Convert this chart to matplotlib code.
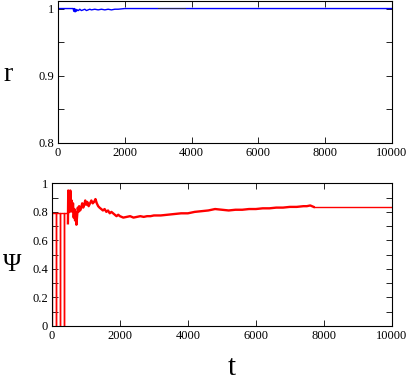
import matplotlib
matplotlib.use("Agg")
import matplotlib.pyplot as plt
from matplotlib.ticker import MultipleLocator

plt.rcParams['font.family'] = ['Liberation Serif', 'DejaVu Serif']
plt.rcParams['mathtext.fontset'] = 'stix'

# top panel: r(t)
r_t = [0, 450, 470, 490, 510, 530, 550, 580, 610, 650, 700, 750, 800, 850, 900, 950, 1000,
       1100, 1200, 1300, 1400, 1500, 1600, 1700, 1800, 2000, 2500, 3000, 4000, 6000, 10000]
r_v = [1.0, 1.0, 0.996, 1.0, 0.995, 0.999, 0.996, 0.998, 0.997, 0.999, 0.997, 0.998, 0.999, 0.997,
       0.998, 0.999, 0.998, 0.999, 0.998, 0.999, 0.998, 0.999, 0.998, 0.999, 0.999, 1.0, 1.0,
       1.0, 1.0, 1.0, 1.0]
r2_t = [3000, 3800]
r2_v = [1.0008, 1.0008]

# bottom panel: Psi(t) -- initial drops
p0_t = [0, 0, 118, 118, 118, 235, 235, 235, 353, 353, 353, 470]
p0_v = [0.0, 0.79, 0.79, 0.0, 0.79, 0.79, 0.0, 0.79, 0.79, 0.0, 0.79, 0.79]
# noisy part
p_t = [470, 480, 495, 510, 525, 540, 560, 580, 600, 620, 640, 660, 680, 700, 720, 740, 760,
       780, 800, 830, 860, 890, 920, 950, 980, 1010, 1040, 1080, 1120, 1160, 1200, 1240,
       1280, 1320, 1360, 1400, 1450, 1500, 1550, 1600, 1650, 1700, 1750, 1800, 1850, 1900,
       1950, 2000, 2100, 2200, 2300, 2400, 2500, 2600, 2700, 2800, 2900, 3000, 3200, 3400,
       3600, 3800, 4000, 4200, 4400, 4600, 4800, 5000, 5200, 5400, 5600, 5800, 6000, 6200,
       6400, 6600, 6800, 7000, 7200, 7400, 7500, 7600, 7700]
p_v = [0.72, 0.95, 0.86, 0.93, 0.80, 0.95, 0.84, 0.88, 0.80, 0.86, 0.76, 0.82, 0.74, 0.80,
       0.71, 0.77, 0.83, 0.80, 0.84, 0.81, 0.83, 0.86, 0.83, 0.85, 0.88, 0.85, 0.87, 0.84,
       0.86, 0.88, 0.86, 0.87, 0.89, 0.86, 0.84, 0.83, 0.82, 0.81, 0.82, 0.80, 0.81, 0.79,
       0.80, 0.79, 0.78, 0.77, 0.78, 0.77, 0.76, 0.765, 0.77, 0.76, 0.765, 0.77, 0.765, 0.77,
       0.77, 0.775, 0.775, 0.78, 0.785, 0.79, 0.79, 0.80, 0.805, 0.81, 0.82, 0.815, 0.81,
       0.815, 0.815, 0.82, 0.82, 0.825, 0.825, 0.83, 0.83, 0.835, 0.835, 0.84, 0.84, 0.845,
       0.835]
# final plateau
p1_t = [7700, 10000]
p1_v = [0.835, 0.835]

xticks = [0, 2000, 4000, 6000, 8000, 10000]
xlabels = ['0', '2000', '4000', '6000', '8000', '10000']

fig = plt.figure(figsize=(4.09, 3.82), dpi=100)
ax1 = fig.add_axes([0.142, 0.6257, 0.816, 0.3713])
ax2 = fig.add_axes([0.127, 0.1466, 0.831, 0.3734])

ax1.plot(r_t, r_v, color='#0000ff', lw=1.0)
ax1.plot(r2_t, r2_v, color='#333333', lw=0.6)
ax1.set_xlim(0, 10000)
ax1.set_ylim(0.8, 1.011)
ax1.yaxis.set_minor_locator(MultipleLocator(0.05))
ax1.set_yticks([0.8, 0.9, 1.0])
ax1.set_yticklabels(['0.8', '0.9', '1'])
ax1.set_xticks(xticks)
ax1.set_xticklabels(xlabels)
ax1.set_ylabel('r', fontsize=20, rotation=0, va='center')
ax1.yaxis.set_label_coords(-0.15, 0.48)

ax2.plot(p0_t, p0_v, color='#ff0000', lw=1.0)
ax2.plot(p_t, p_v, color='#ff0000', lw=1.7)
ax2.plot(p1_t, p1_v, color='#ff0000', lw=1.0)
ax2.set_xlim(0, 10000)
ax2.set_ylim(0, 1)
ax2.set_yticks([0, 0.2, 0.4, 0.6, 0.8, 1.0])
ax2.set_yticklabels(['0', '0.2', '0.4', '0.6', '0.8', '1'])
ax2.yaxis.set_minor_locator(MultipleLocator(0.1))
ax2.set_xticks(xticks)
ax2.set_xticklabels(xlabels)
ax2.set_ylabel('Ψ', fontsize=18, rotation=0, va='center')
ax2.yaxis.set_label_coords(-0.118, 0.43)
ax2.set_xlabel('t', fontsize=21)
ax2.xaxis.set_label_coords(0.53, -0.2)

for ax in (ax1, ax2):
    ax.tick_params(which='both', direction='in', top=True, right=True,
                   labelsize=9, pad=3, width=0.6, length=4)
    for s in ax.spines.values():
        s.set_linewidth(0.8)

fig.savefig('out.png', dpi=100)
